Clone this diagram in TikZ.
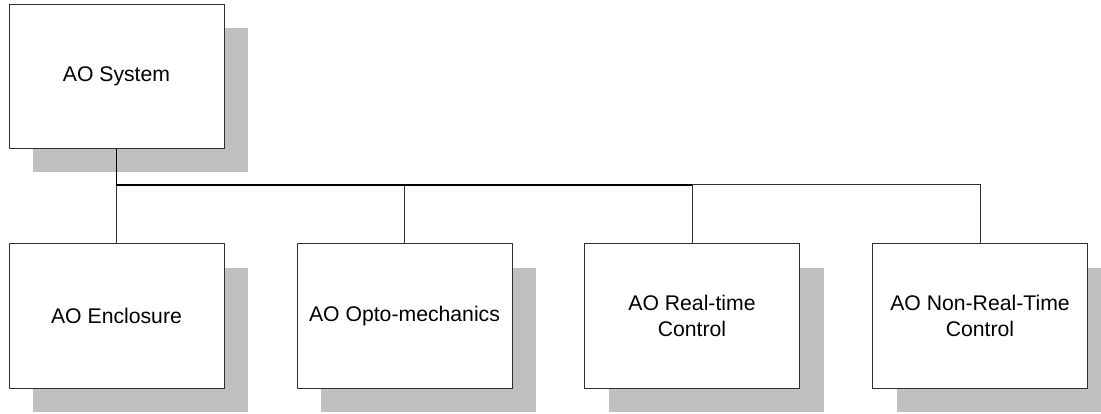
\documentclass[tikz,border=0pt]{standalone}
\usepackage{fontspec}
\setmainfont{Liberation Sans}
\usetikzlibrary{shadows}
\definecolor{shadowgray}{HTML}{C0C0C0}
\definecolor{edgegray}{HTML}{303030}
\tikzset{
  unitbox/.style={draw=edgegray, line width=1pt, fill=white, rectangle,
    minimum width=215pt, minimum height=144pt, inner sep=0pt, align=center,
    font=\fontsize{21.2}{26.5}\selectfont,
    general shadow={fill=shadowgray, shadow xshift=24pt, shadow yshift=-24pt}},
  trunk/.style={draw=black, line width=1.6pt},
  branch/.style={draw=edgegray, line width=1pt}
}
\begin{document}
\begin{tikzpicture}[x=1pt,y=-1pt]
\useasboundingbox (0,0) rectangle (1101,414);
\node[unitbox] (sys) at (116.5,76.5) {AO System};
\node[unitbox] (enc) at (116.5,316) {AO Enclosure};
\node[unitbox] (opt) at (404.5,316) {AO Opto-mechanics};
\node[unitbox] (rtc) at (692,316) {AO Real-time\\Control};
\node[unitbox] (nrt) at (980,316) {AO Non-Real-Time\\Control};
\coordinate (bus) at (0,185);
\draw[branch] (enc.north) -- (enc.north |- bus);
\draw[branch] (opt.north) -- (opt.north |- bus);
\draw[branch] (rtc.north) -- (rtc.north |- bus);
\draw[branch] (rtc.north |- bus) -- (nrt.north |- bus) -- (nrt.north);
\draw[trunk] (sys.south) -- (sys.south |- bus) -- (rtc.north |- bus);
\end{tikzpicture}
\end{document}
